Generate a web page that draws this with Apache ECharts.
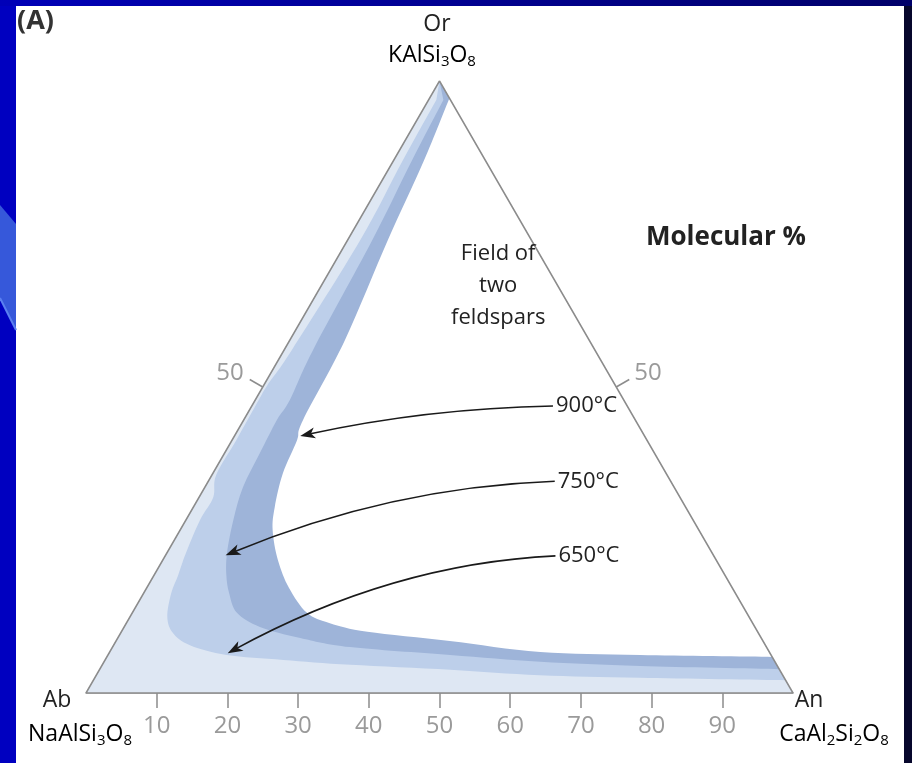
<!DOCTYPE html>
<html><head><meta charset="utf-8">
<script src="https://cdn.jsdelivr.net/npm/echarts@6/dist/echarts.min.js"></script>
<style>html,body{margin:0;padding:0;background:#0000c0;overflow:hidden}#c{width:912px;height:763px}</style>
</head><body><div id="c"></div>
<script>
// Ternary compositions as [An %, Or %]  (Ab = 100 - An - Or)
// Solvus curves (boundary of the two-feldspar field) at three temperatures
const curve900 = [[2.8,97.2],[4.3,87.0],[5.7,74.0],[7.8,57.6],[8.4,44.6],[9.2,41.3],[9.9,35.9],[11.5,30.4],[13.1,26.6],[16.3,21.7],[20.1,17.2],[24.7,13.1],[28.8,11.4],[34.8,10.0],[47.2,8.5],[60.9,6.7],[75.3,6.2],[94.1,5.9]];
const curve750 = [[2.1,96.9],[2.6,87.0],[3.5,74.0],[4.1,56.0],[4.9,47.9],[4.7,44.6],[5.0,39.2],[5.4,33.6],[6.7,28.3],[8.5,22.9],[10.2,19.3],[12.1,16.3],[14.8,13.1],[19.2,10.8],[25.8,9.0],[33.6,7.5],[48.4,6.2],[61.7,5.1],[76.2,4.4],[96.1,3.9]];
const curve650 = [[1.1,96.9],[1.3,87.0],[1.8,74.0],[1.1,56.0],[0.5,50.3],[0.5,47.9],[0.6,41.3],[0.6,35.6],[2.0,32.0],[2.0,28.3],[2.7,22.9],[3.4,19.3],[3.9,16.3],[5.3,12.4],[7.4,9.8],[10.8,7.8],[16.8,6.2],[25.2,5.4],[35.1,4.6],[49.6,3.8],[62.7,2.9],[77.1,2.5],[97.9,2.1]];
const bandNames = ['900°C','750°C','650°C'];
// Axis ticks
const bottomTicks = [10,20,30,40,50,60,70,80,90];   // An %
const sideTicks = [50];                               // Or % on the two side edges
// Annotation arrows: tail (label anchor) and tip, as [An %, Or %]
const arrowTails = [[42.6,46.9],[49.0,34.6],[55.2,22.4]];
const arrowTips  = [[9.3,42.0],[8.5,22.5],[16.8,6.5]];
const fieldLabelPos = [25.0,66.6];

const SQ = Math.sqrt(3)/2;
function toXY(p){ return [p[0] + p[1]/2, p[1]*SQ]; }
const FONT = "'Open Sans','Noto Sans',sans-serif";
const bandCurves = [curve900, curve750, curve650];
const bandColors = ['#9eb4d9','#bdcfea','#dee7f3'];

function smoothSegs(pts){
  let d = '';
  for (let i=0;i<pts.length-1;i++){
    const p0 = pts[i-1]||pts[i], p1 = pts[i], p2 = pts[i+1], p3 = pts[i+2]||pts[i+1];
    const t = 1/6;
    const c1 = [p1[0]+(p2[0]-p0[0])*t, p1[1]+(p2[1]-p0[1])*t];
    const c2 = [p2[0]-(p3[0]-p1[0])*t, p2[1]-(p3[1]-p1[1])*t];
    d += ' C'+c1[0].toFixed(2)+','+c1[1].toFixed(2)+' '+c2[0].toFixed(2)+','+c2[1].toFixed(2)+' '+p2[0].toFixed(2)+','+p2[1].toFixed(2);
  }
  return d;
}

const chart = echarts.init(document.getElementById('c'), null, {renderer:'canvas'});
const sub = {fontSize:15, fontFamily:FONT, color:'#222', padding:[14,0,0,0]};
const main = {fontSize:23, fontFamily:FONT, color:'#222'};

chart.setOption({
  animation:false,
  backgroundColor:'transparent',
  grid:{left:86, top:81, width:707, height:612},
  xAxis:{type:'value', min:0, max:100,
    axisLine:{show:true, lineStyle:{color:'#8c8c8c', width:1.5}},
    axisTick:{show:true, customValues:bottomTicks, length:15, lineStyle:{color:'#8c8c8c', width:1.5}},
    axisLabel:{customValues:bottomTicks, fontSize:24, color:'#9a9a9a', margin:21, fontFamily:FONT},
    splitLine:{show:false}},
  yAxis:{type:'value', min:0, max:100*SQ, show:false},
  graphic:{elements:[
    {type:'rect', z:-10, shape:{x:0,y:0,width:912,height:6}, style:{fill:new echarts.graphic.LinearGradient(0,0,1,0,[{offset:0,color:'#0000b8'},{offset:1,color:'#00006a'}])}},
    {type:'rect', z:-10, shape:{x:16,y:6,width:888,height:757}, style:{fill:'#ffffff'}},
    {type:'rect', z:-10, shape:{x:904,y:6,width:8,height:757}, style:{fill:'#07072c'}},
    {type:'polygon', z:-10, shape:{points:[[0,205],[16,224],[16,330],[0,298]]}, style:{fill:'#3658da'}},
    {type:'polyline', z:-9, shape:{points:[[0,298],[16,330]]}, style:{stroke:'#5b80f2', lineWidth:2}},
    {type:'text', x:17, y:21, style:{text:'(A)', fill:'#333', font:'bold 27px '+FONT, align:'left', verticalAlign:'middle', textAlign:'left', textVerticalAlign:'middle'}},
    {type:'text', x:437, y:24, style:{text:'Or', fill:'#222', font:'23px '+FONT, align:'center', verticalAlign:'middle', textAlign:'center', textVerticalAlign:'middle'}},
    {type:'text', x:432, y:55, style:{text:'{n|KAlSi}{s|3}{n|O}{s|8}', rich:{n:main,s:sub}, align:'center', verticalAlign:'middle', textAlign:'center', textVerticalAlign:'middle'}},
    {type:'text', x:57, y:700, style:{text:'Ab', fill:'#222', font:'23px '+FONT, align:'center', verticalAlign:'middle', textAlign:'center', textVerticalAlign:'middle'}},
    {type:'text', x:80, y:734, style:{text:'{n|NaAlSi}{s|3}{n|O}{s|8}', rich:{n:main,s:sub}, align:'center', verticalAlign:'middle', textAlign:'center', textVerticalAlign:'middle'}},
    {type:'text', x:809, y:700, style:{text:'An', fill:'#222', font:'23px '+FONT, align:'center', verticalAlign:'middle', textAlign:'center', textVerticalAlign:'middle'}},
    {type:'text', x:834, y:734, style:{text:'{n|CaAl}{s|2}{n|Si}{s|2}{n|O}{s|8}', rich:{n:main,s:sub}, align:'center', verticalAlign:'middle', textAlign:'center', textVerticalAlign:'middle'}},
    {type:'text', x:726, y:238, style:{text:'Molecular %', fill:'#222', font:'bold 26px '+FONT, align:'center', verticalAlign:'middle', textAlign:'center', textVerticalAlign:'middle'}}
  ]},
  series:[
    {type:'custom', name:'solvus bands', coordinateSystem:'cartesian2d', z:2,
      data: bandNames.map((n,i)=>[i,0]),
      renderItem:function(params, api){
        const i = params.dataIndex;
        const pts = bandCurves[i].map(p=>api.coord(toXY(p)));
        const top = api.coord(toXY([0,100])), an = api.coord(toXY([100,0])), ab = api.coord(toXY([0,0]));
        const d = 'M'+top[0]+','+top[1]+' L'+pts[0][0]+','+pts[0][1]+smoothSegs(pts)+' L'+an[0]+','+an[1]+' L'+ab[0]+','+ab[1]+' Z';
        return {type:'path', shape:{pathData:d}, style:{fill:bandColors[i]}};
      }},
    {type:'line', name:'outline', z:5, symbol:'none', silent:true,
      data:[[0,0],[100,0],[0,100],[0,0]].map(toXY),
      lineStyle:{color:'#8c8c8c', width:1.5}},
    {type:'custom', name:'side ticks', coordinateSystem:'cartesian2d', z:6,
      data: sideTicks.map(v=>[v,0]),
      renderItem:function(params, api){
        const v = sideTicks[params.dataIndex];
        const c = api.coord(toXY([100/3,100/3]));
        const children = [];
        [[0,v],[100-v,v]].forEach((p,k)=>{
          const q = api.coord(toXY(p));
          const a = k===0 ? api.coord(toXY([0,0])) : api.coord(toXY([100,0]));
          const b = api.coord(toXY([0,100]));
          let dx=b[0]-a[0], dy=b[1]-a[1]; const L=Math.hypot(dx,dy); dx/=L; dy/=L;
          let nx=-dy, ny=dx;
          if (nx*(q[0]-c[0])+ny*(q[1]-c[1])<0){nx=-nx;ny=-ny;}
          const e=[q[0]+nx*15, q[1]+ny*15];
          children.push({type:'line', shape:{x1:q[0],y1:q[1],x2:e[0],y2:e[1]}, style:{stroke:'#8c8c8c', lineWidth:1.5}});
          children.push({type:'text', x: k===0? e[0]-6 : e[0]+5, y:e[1]-6,
            style:{text:String(v), fill:'#9a9a9a', font:'24px '+FONT, align:k===0?'right':'left', verticalAlign:'middle'}});
        });
        return {type:'group', children};
      }},
    {type:'custom', name:'annotations', coordinateSystem:'cartesian2d', z:7,
      data: bandNames.map((n,i)=>[i,0]),
      renderItem:function(params, api){
        const i = params.dataIndex;
        const t = api.coord(toXY(arrowTails[i])), p = api.coord(toXY(arrowTips[i]));
        const cp = [(t[0]+p[0])/2, t[1]+(p[1]-t[1])*0.08];
        let dx=p[0]-cp[0], dy=p[1]-cp[1]; const L=Math.hypot(dx,dy); dx/=L; dy/=L;
        const nx=-dy, ny=dx, HL=15, HW=5.5;
        const base=[p[0]-dx*HL, p[1]-dy*HL];
        const children=[
          {type:'bezierCurve', shape:{x1:t[0],y1:t[1],x2:p[0]-dx*8,y2:p[1]-dy*8,cpx1:cp[0],cpy1:cp[1]}, style:{stroke:'#1a1a1a', lineWidth:1.6, fill:null}},
          {type:'polygon', shape:{points:[p,[base[0]+nx*HW,base[1]+ny*HW],[p[0]-dx*(HL-4),p[1]-dy*(HL-4)],[base[0]-nx*HW,base[1]-ny*HW]]}, style:{fill:'#1a1a1a'}},
          {type:'text', x:t[0]+3, y:t[1], style:{text:bandNames[i], fill:'#222', font:'22px '+FONT, align:'left', verticalAlign:'middle'}}
        ];
        if (i===0){
          const f = api.coord(toXY(fieldLabelPos));
          children.push({type:'text', x:f[0], y:f[1], style:{text:'Field of\ntwo\nfeldspars', fill:'#222', font:'22px '+FONT, lineHeight:32, align:'center', verticalAlign:'middle'}});
        }
        return {type:'group', children};
      }}
  ]
});
</script></body></html>
